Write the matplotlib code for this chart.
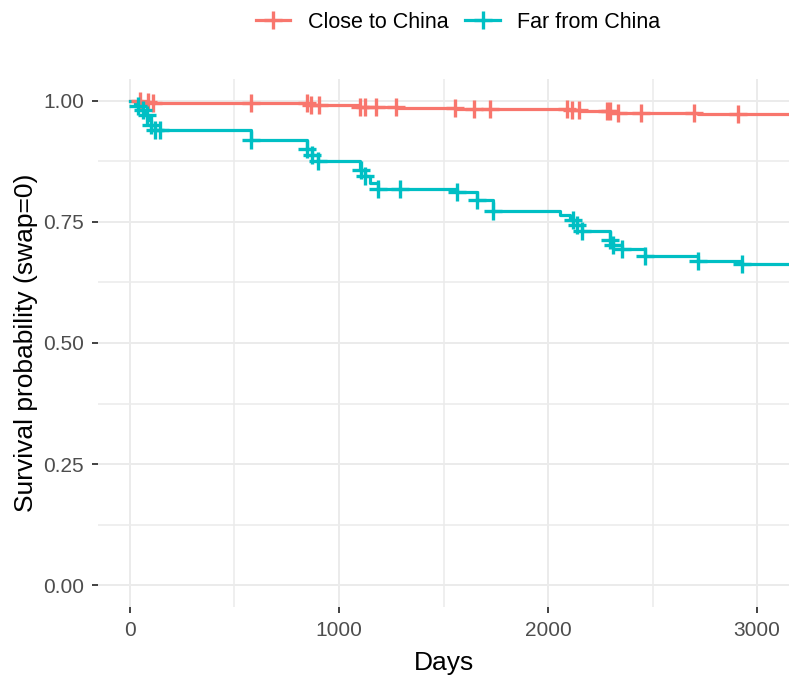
import numpy as np
import matplotlib
matplotlib.use("Agg")
import matplotlib.pyplot as plt
from matplotlib.lines import Line2D

plt.rcParams['font.family'] = ['Liberation Sans', 'DejaVu Sans']

# Kaplan-Meier step data
close_times = [0, 60, 110, 850, 1100, 1280, 1560, 2100, 2150, 2300, 2720]
close_surv = [1.0, 0.997, 0.995, 0.992, 0.988, 0.986, 0.983, 0.980, 0.978, 0.975, 0.972]
close_censor = [48, 85, 110, 578, 847, 864, 902, 1102, 1124, 1178, 1273,
                1553, 1648, 1724, 2090, 2114, 2147, 2280, 2295, 2337, 2447, 2698, 2907]

far_times = [0, 25, 45, 65, 85, 100, 120, 578, 845, 869, 901, 1100, 1124, 1148, 1188,
             1563, 1659, 1738, 2057, 2105, 2137, 2161, 2297, 2313, 2353, 2464, 2719, 2927]
far_surv = [1.0, 0.99, 0.98, 0.97, 0.96, 0.95, 0.939, 0.919, 0.901, 0.888, 0.876, 0.858,
            0.844, 0.830, 0.818, 0.811, 0.795, 0.772, 0.764, 0.754, 0.744, 0.731, 0.713,
            0.702, 0.694, 0.680, 0.670, 0.663]
far_censor = [40, 60, 80, 100, 120, 143, 578, 845, 869, 901, 1107, 1124, 1188, 1292,
              1563, 1659, 1738, 2121, 2137, 2161, 2297, 2313, 2353, 2464, 2719, 2927]

labels = ["Close to China", "Far from China"]
colors = ["#F8766D", "#00BFC4"]
x_end = 3300

fig = plt.figure(figsize=(7.89, 6.79), dpi=100)
ax = fig.add_axes([98 / 789, 72 / 679, 1 - 98 / 789, (607 - 79) / 679])

def surv_at(times, surv, t):
    idx = np.searchsorted(times, t, side='right') - 1
    return np.array(surv)[idx]

for times, surv, cens, c in [(close_times, close_surv, close_censor, colors[0]),
                             (far_times, far_surv, far_censor, colors[1])]:
    ax.step(list(times) + [x_end], list(surv) + [surv[-1]], where='post',
            color=c, lw=2.3, zorder=3)
    ax.plot(cens, surv_at(times, surv, cens), ls='none', marker='+', ms=13,
            mew=2.4, color=c, zorder=4)

ax.set_xlim(-153, 3153)
ax.set_ylim(-0.045, 1.045)
ax.set_xticks([0, 1000, 2000, 3000])
ax.set_xticks([500, 1500, 2500], minor=True)
ax.set_yticks([0, 0.25, 0.5, 0.75, 1.0])
ax.set_yticks([0.125, 0.375, 0.625, 0.875], minor=True)
ax.set_yticklabels(["0.00", "0.25", "0.50", "0.75", "1.00"])
ax.grid(which='major', color='#EBEBEB', lw=1.4)
ax.grid(which='minor', color='#EBEBEB', lw=1.1)
ax.set_axisbelow(True)
for s in ax.spines.values():
    s.set_visible(False)
ax.tick_params(which='major', length=4, width=1.3, color='#333333',
               labelsize=15, labelcolor='#4D4D4D', pad=6)
ax.tick_params(which='minor', length=0)

ax.set_xlabel("Days", fontsize=19, labelpad=8)
ax.set_ylabel("Survival probability (swap=0)", fontsize=19, labelpad=4)

handles = [Line2D([0], [0], color=c, lw=2.3, marker='+', ms=13, mew=2.4) for c in colors]
fig.legend(handles, labels, loc='center', bbox_to_anchor=(458 / 789, 1 - 22 / 679),
           ncol=2, frameon=False, fontsize=15.5, handlelength=1.6,
           columnspacing=0.8, handletextpad=0.8)

fig.savefig("out.png", dpi=100, facecolor='white')
